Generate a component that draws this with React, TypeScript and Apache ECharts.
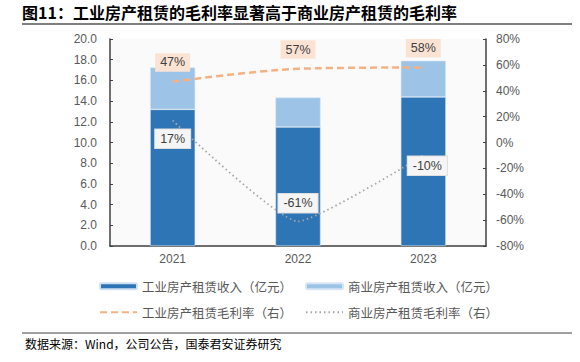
import React, { useEffect, useRef } from "react";
import * as echarts from "echarts";

const years = ["2021", "2022", "2023"];
const industrialRevenue = [13.2, 11.5, 14.4];
const commercialRevenue = [4.05, 2.85, 3.5];
const industrialMargin = [47, 57, 58];
const commercialMargin = [17, -61, -10];

const nameIndRev = "工业房产租赁收入（亿元）";
const nameComRev = "商业房产租赁收入（亿元）";
const nameIndMar = "工业房产租赁毛利率（右）";
const nameComMar = "商业房产租赁毛利率（右）";

const sans = "'Liberation Sans', 'Noto Sans CJK SC', Arial, sans-serif";
const cjk = "'Noto Sans CJK SC', 'Liberation Sans', sans-serif";

export default function App() {
  const ref = useRef<HTMLDivElement>(null);
  useEffect(() => {
    if (!ref.current) return;
    const chart = echarts.init(ref.current, undefined, { renderer: "svg" });
    const legendBase = {
      orient: "horizontal" as const,
      padding: 0,
      itemWidth: 37,
      itemHeight: 6,
      textStyle: { color: "#595959", fontSize: 12.5, fontFamily: cjk },
      itemGap: 6,
    };
    const labelBase = {
      show: true,
      formatter: (p: any) => `${p.value[1]}%`,
      color: "#404040",
      opacity: 1,
      fontSize: 12.5,
      fontFamily: sans,
      padding: [3, 5],
    };
    const grayLabelPos: any[] = [
      { position: "bottom", distance: 9, offset: [0, 0] },
      { position: "top", distance: 9, offset: [0, 0] },
      { position: "bottom", distance: 1, offset: [4, 0] },
    ];
    chart.setOption({
      animation: false,
      backgroundColor: "#ffffff",
      grid: {
        left: 110,
        right: 94,
        top: 39,
        bottom: 116,
        show: true,
        backgroundColor: "#fafafa",
        borderWidth: 0,
      },
      legend: [
        { ...legendBase, data: [nameIndRev], left: 99, top: 280 },
        { ...legendBase, data: [nameComRev], left: 305, top: 280 },
        {
          ...legendBase,
          itemHeight: 14,
          itemStyle: { opacity: 0 },
          data: [nameIndMar],
          left: 99,
          top: 306,
        },
        {
          ...legendBase,
          itemHeight: 14,
          itemStyle: { opacity: 0 },
          data: [nameComMar],
          left: 305,
          top: 306,
        },
      ],
      xAxis: {
        type: "category",
        data: years,
        axisLine: { lineStyle: { color: "#404040", width: 1.5 } },
        axisTick: { inside: true, length: 4, lineStyle: { color: "#404040" } },
        axisLabel: { color: "#595959", fontSize: 12, fontFamily: sans, margin: 7 },
      },
      yAxis: [
        {
          type: "value",
          min: 0,
          max: 20,
          interval: 2,
          splitLine: { show: false },
          axisLine: { show: true, lineStyle: { color: "#404040", width: 1.5 } },
          axisTick: { show: true, inside: true, length: 3, lineStyle: { color: "#404040" } },
          axisLabel: {
            color: "#595959",
            fontSize: 12,
            fontFamily: sans,
            margin: 13,
            formatter: (v: number) => v.toFixed(1),
          },
        },
        {
          type: "value",
          min: -80,
          max: 80,
          interval: 20,
          position: "right",
          splitLine: { show: false },
          axisLine: { show: true, lineStyle: { color: "#404040", width: 1.5 } },
          axisTick: { show: true, inside: true, length: 3, lineStyle: { color: "#404040" } },
          axisLabel: {
            color: "#595959",
            fontSize: 12,
            fontFamily: sans,
            margin: 10,
            formatter: (v: number) => `${v}%`,
          },
        },
      ],
      series: [
        {
          name: nameIndRev,
          type: "bar",
          stack: "rev",
          barWidth: "36%",
          data: industrialRevenue,
          itemStyle: { color: "#2e75b6", borderColor: "#cfe0f2", borderWidth: 0.6 },
        },
        {
          name: nameComRev,
          type: "bar",
          stack: "rev",
          data: commercialRevenue,
          itemStyle: { color: "#9dc3e6", borderColor: "#d6e6f5", borderWidth: 0.6 },
        },
        {
          name: nameIndMar,
          type: "line",
          yAxisIndex: 1,
          smooth: 0.3,
          symbol: "none",
          data: industrialMargin,
          itemStyle: { color: "#f4b183" },
          lineStyle: { color: "#f4b183", width: 2.5, type: [7, 4] },
          z: 5,
        },
        {
          name: nameComMar,
          type: "line",
          yAxisIndex: 1,
          smooth: 0.15,
          symbol: "none",
          data: commercialMargin,
          itemStyle: { color: "#a6a6a6" },
          lineStyle: { color: "#a6a6a6", width: 1.8, type: [1.5, 3] },
          z: 5,
        },
        {
          name: "indLabels",
          type: "scatter",
          yAxisIndex: 1,
          symbolSize: 0,
          silent: true,
          itemStyle: { opacity: 1, color: "transparent" },
          data: industrialMargin.map((v, i) => [years[i], v]),
          label: {
            ...labelBase,
            position: "top",
            distance: 10,
            backgroundColor: "#fbe3d4",
          },
          z: 6,
        },
        {
          name: "comLabels",
          type: "scatter",
          yAxisIndex: 1,
          symbolSize: 0,
          silent: true,
          itemStyle: { opacity: 1, color: "transparent" },
          data: commercialMargin.map((v, i) => ({
            value: [years[i], v],
            label: grayLabelPos[i],
          })),
          label: {
            ...labelBase,
            backgroundColor: "#f5f5f5",
            borderColor: "#dedede",
            borderWidth: 1,
          },
          z: 6,
        },
      ],
      graphic: [
        {
          type: "text",
          left: 22,
          top: 4,
          style: {
            text: "图11：工业房产租赁的毛利率显著高于商业房产租赁的毛利率",
            font: `bold 16px ${cjk}`,
            fill: "#000000",
          },
        },
        {
          type: "line",
          shape: { x1: 22, y1: 24, x2: 572, y2: 24 },
          style: { stroke: "#7f7f7f", lineWidth: 2 },
        },
        {
          type: "line",
          shape: { x1: 22, y1: 333, x2: 572, y2: 333 },
          style: { stroke: "#7f7f7f", lineWidth: 1.5 },
        },
        {
          type: "text",
          left: 25,
          top: 337,
          style: {
            text: "数据来源：Wind，公司公告，国泰君安证券研究",
            font: `12px ${cjk}`,
            fill: "#000000",
          },
        },
      ],
    });
    return () => chart.dispose();
  }, []);
  return (
    <div
      ref={ref}
      style={{ width: 580, height: 362, position: "absolute", left: 0, top: 0 }}
    />
  );
}
